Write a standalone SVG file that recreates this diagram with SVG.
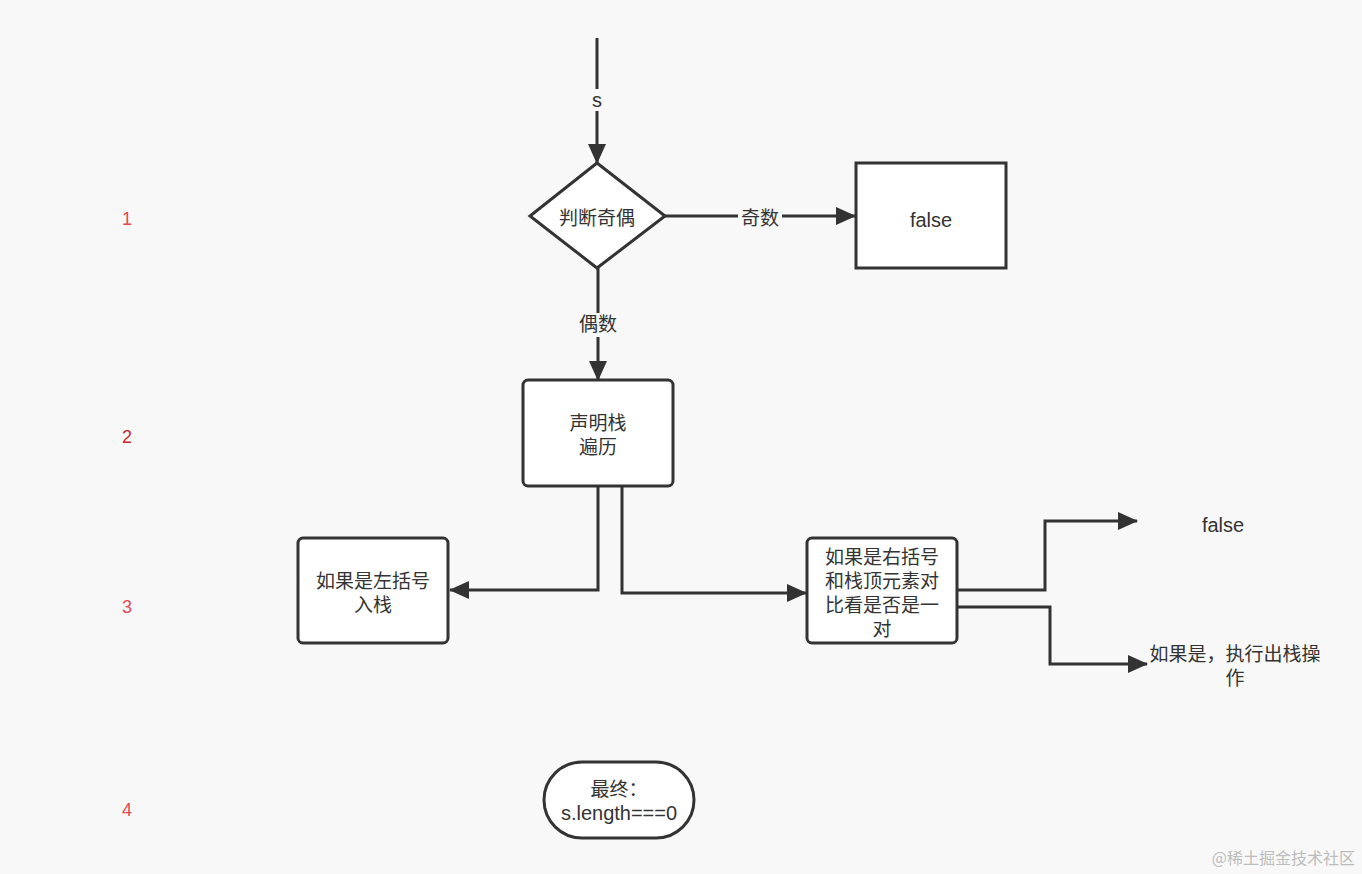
<svg xmlns="http://www.w3.org/2000/svg" width="1362" height="874" viewBox="0 0 1362 874">
<style>
.bg{fill:#f8f8f8}
.n{fill:#fff;stroke:#333;stroke-width:3}
.e{fill:none;stroke:#333;stroke-width:3}
.t{font-family:"Liberation Sans","Noto Sans CJK SC",sans-serif;font-size:19px;fill:#333;text-anchor:middle}
.l{font-size:20px}
.lbl{fill:#f8f8f8}
.num{font-family:"Liberation Sans",sans-serif;font-size:18px;text-anchor:middle}
</style>
<defs>
<marker id="ah" viewBox="0 0 20 18" refX="19" refY="9" markerWidth="20" markerHeight="18" markerUnits="userSpaceOnUse" orient="auto">
<path d="M0,0 L20,9 L0,18 Z" fill="#333"/>
</marker>
</defs>
<rect class="bg" x="0" y="0" width="1362" height="874"/>
<g id="connectors">
<path class="e" d="M597,38 V163" marker-end="url(#ah)"/>
<rect class="lbl" x="589" y="89" width="16" height="22"/>
<text class="t l" x="597" y="107">s</text>
<path class="e" d="M665,216 H855" marker-end="url(#ah)"/>
<rect class="lbl" x="738" y="206" width="44" height="24"/>
<text class="t" x="760" y="225">奇数</text>
<path class="e" d="M598,268 V380" marker-end="url(#ah)"/>
<rect class="lbl" x="576" y="313" width="44" height="24"/>
<text class="t" x="598" y="331">偶数</text>
<path class="e" d="M598,486 V590 H450" marker-end="url(#ah)"/>
<path class="e" d="M622,486 V593 H806" marker-end="url(#ah)"/>
<path class="e" d="M957,590 H1045 V521 H1137" marker-end="url(#ah)"/>
<path class="e" d="M957,607 H1050 V664 H1147" marker-end="url(#ah)"/>
</g>
<g id="judge">
<polygon class="n" points="597,163 665,216 597,268 530,216"/>
<text class="t" x="597" y="225">判断奇偶</text>
</g>
<g id="false1">
<rect class="n" x="856" y="163" width="150" height="105"/>
<text class="t l" x="931" y="227">false</text>
</g>
<g id="declare">
<rect class="n" x="523" y="380" width="150" height="106" rx="5"/>
<text class="t" x="598" y="430">声明栈</text>
<text class="t" x="598" y="454">遍历</text>
</g>
<g id="left">
<rect class="n" x="298" y="538" width="150" height="105" rx="5"/>
<text class="t" x="373" y="588">如果是左括号</text>
<text class="t" x="373" y="612">入栈</text>
</g>
<g id="right">
<rect class="n" x="807" y="538" width="150" height="105" rx="5"/>
<text class="t" x="882" y="564">如果是右括号</text>
<text class="t" x="882" y="588">和栈顶元素对</text>
<text class="t" x="882" y="612">比看是否是一</text>
<text class="t" x="882" y="636">对</text>
</g>
<g id="false2">
<text class="t l" x="1223" y="532">false</text>
</g>
<g id="pop">
<text class="t" x="1235" y="661">如果是，执行出栈操</text>
<text class="t" x="1235" y="685">作</text>
</g>
<g id="final">
<rect class="n" x="544" y="762" width="150" height="76" rx="38"/>
<text class="t" x="619" y="796">最终：</text>
<text class="t l" x="619" y="820">s.length===0</text>
</g>
<g id="numbers">
<text class="num" x="127" y="225" fill="#e5484d">1</text>
<text class="num" x="127" y="443" fill="#c62828">2</text>
<text class="num" x="127" y="613" fill="#e5484d">3</text>
<text class="num" x="127" y="816" fill="#e5484d">4</text>
</g>
<text x="1355" y="864" font-family="'Noto Sans CJK SC',sans-serif" font-size="16" fill="#bdbdbd" text-anchor="end">@稀土掘金技术社区</text>
</svg>
